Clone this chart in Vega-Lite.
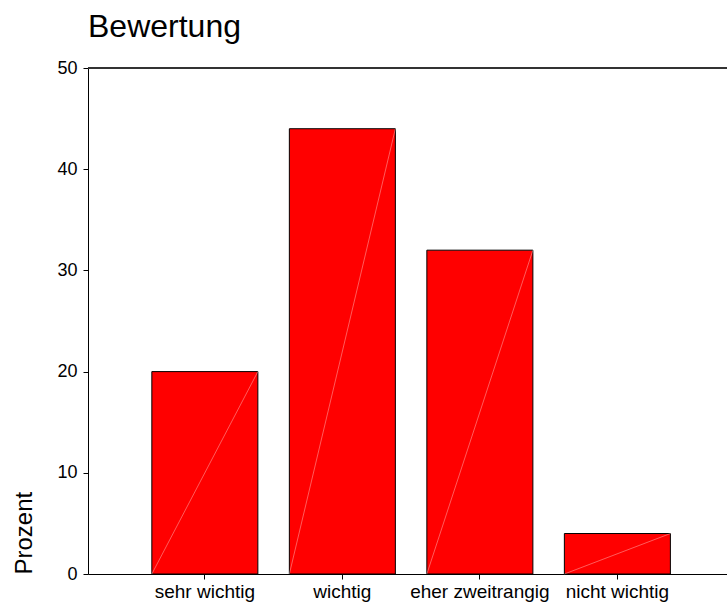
{
  "$schema": "https://vega.github.io/schema/vega-lite/v6.json",
  "autosize": "none",
  "width": 639,
  "height": 506,
  "padding": {"left": 88, "top": 68, "right": 0, "bottom": 30},
  "title": {"text": "Bewertung", "anchor": "start", "frame": "group", "fontSize": 32, "fontWeight": "normal", "font": "Liberation Sans", "color": "#000", "offset": 15},
  "config": {"view": {"stroke": null}, "font": "Liberation Sans"},
  "data": {"values": [
    {"Bewertung": "sehr wichtig", "Prozent": 20},
    {"Bewertung": "wichtig", "Prozent": 44},
    {"Bewertung": "eher zweitrangig", "Prozent": 32},
    {"Bewertung": "nicht wichtig", "Prozent": 4}
  ]},
  "layer": [
    {
      "mark": {"type": "bar", "color": "#ff0000", "stroke": "#000", "strokeWidth": 1},
      "encoding": {
        "x": {"field": "Bewertung", "type": "nominal", "sort": null,
          "scale": {"paddingInner": 0.229, "paddingOuter": 0.438, "align": 0.53},
          "axis": {"title": null, "labelAngle": 0, "labelFontSize": 19, "labelColor": "#000", "domainColor": "#000", "tickColor": "#000", "tickSize": 5, "labelPadding": 3}},
        "y": {"field": "Prozent", "type": "quantitative",
          "scale": {"domain": [0, 50], "nice": false},
          "axis": {"title": "Prozent", "values": [0, 10, 20, 30, 40, 50], "grid": false, "labelFontSize": 18, "labelColor": "#000", "domainColor": "#000", "tickColor": "#000", "tickSize": 5, "labelPadding": 6, "titleFontSize": 24, "titleFontWeight": "normal", "titleColor": "#000", "titleAnchor": "start", "titlePadding": 20}}
      }
    },
    {
      "mark": {"type": "rule", "color": "#ffffff", "strokeWidth": 0.6, "opacity": 0.6},
      "encoding": {
        "x": {"field": "Bewertung", "type": "nominal", "sort": null, "bandPosition": 1},
        "x2": {"field": "Bewertung", "bandPosition": 0},
        "y": {"field": "Prozent", "type": "quantitative"},
        "y2": {"datum": 0}
      }
    },
    {
      "mark": {"type": "rule", "color": "#333333", "strokeWidth": 1.5},
      "encoding": {
        "y": {"datum": 50, "type": "quantitative"}
      }
    }
  ]
}
